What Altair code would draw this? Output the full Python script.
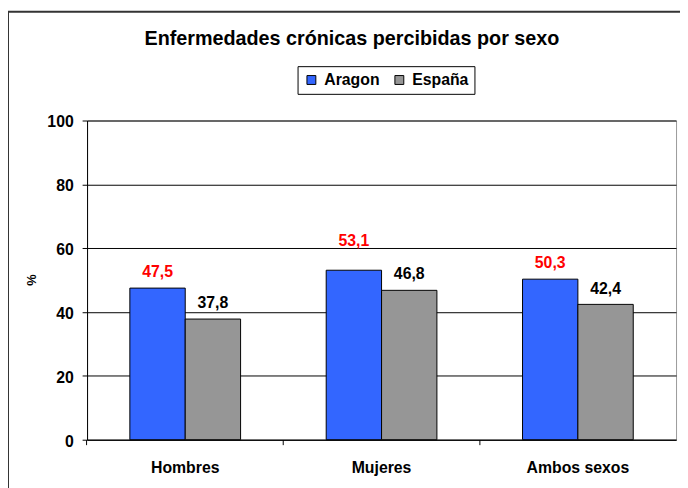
import altair as alt
import pandas as pd

sexos = ["Hombres", "Mujeres", "Ambos sexos"]
regiones = ["Aragon", "España"]
aragon = [47.5, 53.1, 50.3]
espana = [37.8, 46.8, 42.4]
colores = ["#3366FF", "#969696"]
y_ticks = [0, 20, 40, 60, 80, 100]

rows = []
for s, a, e in zip(sexos, aragon, espana):
    rows.append({"sexo": s, "region": "Aragon", "valor": a})
    rows.append({"sexo": s, "region": "España", "valor": e})
df = pd.DataFrame(rows)

FONT = "Liberation Sans"

base = alt.Chart(df).encode(
    x=alt.X(
        "sexo:N",
        sort=sexos,
        scale=alt.Scale(paddingInner=0.436, paddingOuter=0.218),
        axis=alt.Axis(
            title=None,
            labelAngle=0,
            labelFont=FONT,
            labelFontSize=16,
            labelFontWeight="bold",
            labelColor="black",
            labelPadding=15,
            bandPosition=-0.387,
            tickSize=5,
            tickColor="black",
            domainColor="black",
            grid=False,
        ),
    ),
    xOffset=alt.XOffset("region:N", sort=regiones),
    y=alt.Y(
        "valor:Q",
        scale=alt.Scale(domain=[0, 100]),
        axis=alt.Axis(
            title="%",
            values=y_ticks,
            titleFont=FONT,
            titleFontSize=13,
            titleFontWeight="bold",
            titleColor="black",
            titleX=-56,
            titleY=161,
            titleBaseline="middle",
            titleAngle=270,
            labelFont=FONT,
            labelFontSize=16,
            labelFontWeight="bold",
            labelColor="black",
            labelPadding=9,
            labelOffset=1.5,
            tickSize=5,
            tickColor="black",
            domainColor="black",
            gridColor="black",
            gridWidth=1,
        ),
    ),
)

bars = base.mark_bar(stroke="black", strokeWidth=1).encode(
    color=alt.Color(
        "region:N",
        sort=regiones,
        scale=alt.Scale(domain=regiones, range=colores),
        legend=alt.Legend(
            title=None,
            orient="none",
            legendX=213,
            legendY=-55,
            direction="horizontal",
            strokeColor="black",
            fillColor="white",
            padding=6,
            symbolType="square",
            symbolSize=81,
            symbolStrokeColor="black",
            symbolStrokeWidth=1,
            symbolOpacity=1,
            labelFont=FONT,
            labelFontSize=16,
            labelFontWeight="bold",
            labelColor="black",
            columnPadding=12,
            labelOffset=5,
        ),
    )
)

label_expr = "replace(format(datum.valor, '.1f'), '.', ',')"

txt_aragon = base.transform_filter(
    "datum.region == 'Aragon' && datum.sexo != 'Mujeres'"
).transform_calculate(lab=label_expr).mark_text(
    font=FONT, fontSize=16, fontWeight="bold", color="#FF0000",
    baseline="alphabetic", dy=-11
).encode(text="lab:N")

txt_aragon_m = base.transform_filter(
    "datum.region == 'Aragon' && datum.sexo == 'Mujeres'"
).transform_calculate(lab=label_expr).mark_text(
    font=FONT, fontSize=16, fontWeight="bold", color="#FF0000",
    baseline="alphabetic", dy=-25
).encode(text="lab:N")

txt_espana = base.transform_filter(
    "datum.region == 'España'"
).transform_calculate(lab=label_expr).mark_text(
    font=FONT, fontSize=16, fontWeight="bold", color="black",
    baseline="alphabetic", dy=-11
).encode(text="lab:N")

frame = alt.Chart(alt.Data(values=[{"f": 1}])).mark_rect(
    fill="transparent", stroke="#333333", strokeWidth=2
).encode(
    x=alt.value(-80), x2=alt.value(800), y=alt.value(-110), y2=alt.value(600)
)

chart = alt.layer(frame, bars, txt_aragon, txt_aragon_m, txt_espana).properties(
    width=596,
    height=323,
    title=alt.Title(
        "Enfermedades crónicas percibidas por sexo",
        font=FONT,
        fontSize=20,
        fontWeight="bold",
        color="black",
        anchor="middle",
        baseline="alphabetic",
        dx=-30,
        offset=-55,
    ),
    autosize=alt.AutoSizeParams(type="none"),
    padding={"left": 80, "top": 111, "right": 4, "bottom": 46},
).configure_view(stroke="#999999")

chart.save("out.html", embed_options={"renderer": "svg", "actions": False})
